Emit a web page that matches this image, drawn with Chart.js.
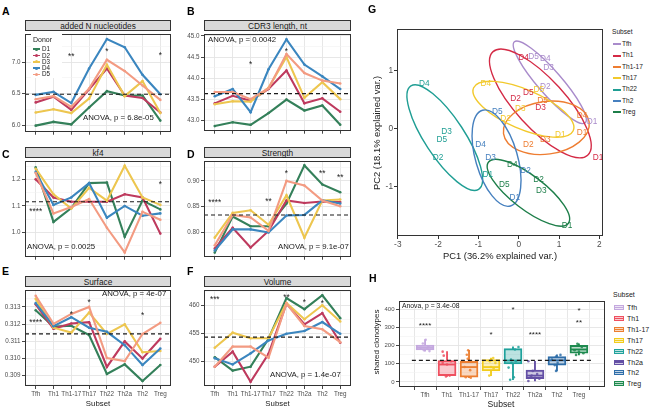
<!DOCTYPE html>
<html><head><meta charset="utf-8">
<script src="https://cdn.jsdelivr.net/npm/chart.js@4.4.1/dist/chart.umd.min.js"></script>
<style>
html,body{margin:0;padding:0;background:#fff}
body{width:650px;height:409px;position:relative;overflow:hidden;font-family:"Liberation Sans",Arial,Helvetica,sans-serif;color:#1a1a1a}
canvas{position:absolute}
.t{position:absolute;white-space:nowrap}
.strip{position:absolute;background:#D9D9D9;border:1px solid #333;box-sizing:border-box;font-size:8.3px;color:#1a1a1a;display:flex;align-items:center;justify-content:center;white-space:nowrap}
.box{position:absolute}
</style></head><body>
<script>
// ---------------- DATA ----------------
const subsets = ['Tfh','Th1','Th1-17','Th17','Th22','Th2a','Th2','Treg'];
const donors = ['D1','D2','D3','D4','D5'];

// A: added N nucleotides (rows D1..D5)
const addedNucleotides = [
 [5.99,6.05,6.01,6.28,6.54,6.47,6.47,6.07],
 [6.36,6.45,6.24,6.57,6.90,6.47,6.43,6.20],
 [6.20,6.25,6.19,6.42,6.96,6.46,6.70,6.19],
 [6.48,6.53,6.35,6.90,7.37,7.24,6.80,6.49],
 [6.41,6.46,6.29,6.58,7.04,6.86,6.63,6.40]];
const addedNucleotidesRef = 6.49;
const addedNucleotidesTicks = [6.0,6.5,7.0];
const addedNucleotidesStars = [[2,'**',7.13],[4,'*',7.21],[7,'*',7.15]];

// B: CDR3 length, nt
const cdr3Length = [
 [42.86,42.95,42.89,43.17,43.49,43.23,43.35,42.89],
 [43.40,43.58,43.46,43.74,44.18,43.40,43.52,43.20],
 [43.38,43.45,43.44,43.77,44.50,43.53,43.90,43.50],
 [43.57,43.74,43.19,44.21,44.92,44.32,44.04,43.74],
 [43.67,43.67,43.50,43.76,44.57,44.12,43.94,43.87]];
const cdr3LengthRef = 43.63;
const cdr3LengthTicks = [43.0,43.5,44.0,44.5,45.0];
const cdr3LengthStars = [[2,'*',44.37],[4,'*',44.68]];

// C: kf4
const kf4 = [
 [1.245,1.040,1.092,1.186,1.188,0.984,1.120,1.087],
 [1.200,1.132,1.116,1.116,1.116,1.144,1.132,0.996],
 [1.240,1.144,1.090,1.168,1.120,1.251,1.132,1.104],
 [1.228,1.104,1.132,1.186,1.056,1.100,1.063,1.072],
 [1.224,1.072,1.096,1.126,1.018,0.925,1.078,1.048]];
const kf4Ref = 1.116;
const kf4Ticks = [1.0,1.1,1.2];
const kf4Stars = [[0,'****',1.087],[7,'*',1.188]];

// D: Strength
const strength = [
 [0.761,0.831,0.812,0.812,0.856,0.930,0.893,0.878],
 [0.769,0.809,0.771,0.803,0.862,0.857,0.860,0.859],
 [0.790,0.838,0.843,0.815,0.872,0.790,0.862,0.864],
 [0.765,0.806,0.806,0.800,0.833,0.834,0.862,0.856],
 [0.775,0.834,0.829,0.803,0.900,0.891,0.862,0.851]];
const strengthRef = 0.834;
const strengthTicks = [0.80,0.85,0.90];
const strengthStars = [[0,'****',0.862],[3,'**',0.865],[4,'*',0.918],[6,'**',0.918],[7,'**',0.912]];

// E: Surface
const surface = [
 [0.31281,0.31185,0.31190,0.31136,0.30909,0.30965,0.30868,0.30961],
 [0.31315,0.31173,0.31203,0.31211,0.30950,0.31099,0.30999,0.31114],
 [0.31347,0.31179,0.31151,0.31267,0.31142,0.31198,0.31036,0.31043],
 [0.31322,0.31188,0.31240,0.31179,0.31155,0.31077,0.30961,0.31058],
 [0.31365,0.31201,0.31259,0.31300,0.31002,0.30984,0.31142,0.31207]];
const surfaceRef = 0.31143;
const surfaceTicks = [0.309,0.310,0.311,0.312,0.313];
const surfaceStars = [[0,'****',0.31222],[2,'*',0.31272],[3,'*',0.31337],[6,'*',0.31266]];

// F: Volume
const volume = [
 [450.7,448.3,449.0,454.0,461.3,459.3,461.8,457.7],
 [449.0,451.7,446.3,451.3,460.3,456.6,458.6,453.3],
 [452.4,455.1,454.1,454.1,460.4,457.5,460.0,457.1],
 [450.5,449.4,451.4,453.7,454.9,455.4,457.0,454.9],
 [449.0,452.6,452.6,450.6,460.3,456.3,455.7,453.4]];
const volumeRef = 454.3;
const volumeTicks = [450,455,460];
const volumeStars = [[0,'***',461.5],[4,'**',461.9],[5,'*',460.9],[6,'*',460.7]];

// G: PCA (points per subset, donors D1..D5)
const pcaSubsets = ['Tfh','Th1','Th1-17','Th17','Th22','Th2','Treg'];
const pcaTfh   = [[1.82,0.12],[0.66,0.72],[0.74,1.06],[0.66,1.21],[0.37,1.24]];
const pcaTh1   = [[1.97,-0.49],[-0.08,0.52],[0.54,0.37],[0.12,1.23],[0.24,0.62]];
const pcaTh117 = [[1.57,-0.07],[0.24,-0.27],[0.66,-0.19],[1.57,0.22],[0.59,0.49]];
const pcaTh17  = [[1.03,-0.10],[-0.33,0.18],[0.04,0.35],[-0.82,0.77],[0.50,0.68]];
const pcaTh22  = [[-0.77,-0.79],[-2.00,-0.50],[-1.79,-0.05],[-2.34,0.77],[-1.91,-0.18]];
const pcaTh2   = [[-0.10,-1.19],[0.17,-0.72],[-0.70,-0.49],[-0.95,-0.27],[-0.53,0.29]];
const pcaTreg  = [[1.20,-1.66],[0.49,-0.87],[0.56,-1.06],[-0.16,-0.62],[-0.36,-0.97]];
const pcaPoints = [pcaTfh,pcaTh1,pcaTh117,pcaTh17,pcaTh22,pcaTh2,pcaTreg];
// ellipses: centre x, centre y, semi-axis vector a (x,y), semi-axis vector b (x,y), in PC units
const pcaEllipses = [
 [0.77,0.80, 0.877,-0.697, 0.225,0.131],
 [0.536,0.437, 1.173,-0.891, 0.459,0.281],
 [0.684,0.017, 1.062,0.101, 0.091,-0.449],
 [0.116,0.336, 1.235,-0.370, 0.200,0.308],
 [-1.835,-0.151, 0.84,-0.89, 0.415,0.182],
 [-0.551,-0.504, 0.346,-0.824, 0.499,0.097],
 [0.24,-1.10, 0.988,-0.529, 0.26,0.225]];

// H: shared clonotypes boxplots
const hQ1  = [176,35,26,61,100,18,93,158];
const hMed = [188,96,82,82,118,35,119,179];
const hQ3  = [203,118,114,123,184,65,140,202];
const hLo  = [170,30,23,35,12,5,61,149];
const hHi  = [233,167,175,132,193,114,149,210];
const hPoints = [
 [233,212,196,188,182,175,170],
 [167,145,114,105,96,35,30],
 [175,150,128,114,82,65,26,23],
 [132,114,105,82,75,35],
 [193,179,123,114,105,79,26,12],
 [114,61,44,35,26,23,5,18],
 [149,140,123,105,93,61],
 [210,193,175,167,149,158]];
const hJitter = [
 [0.03,-0.10,0.15,-0.20,0.10,-0.05,0.20],
 [-0.20,-0.15,0.18,-0.20,0.00,0.12,-0.05],
 [-0.04,-0.10,-0.06,0.10,-0.20,0.05,-0.15,0.08],
 [0.10,-0.05,0.20,0.00,0.12,-0.08],
 [0.25,0.09,-0.09,0.13,-0.07,-0.20,0.04,-0.13],
 [-0.30,-0.10,0.10,-0.15,-0.20,0.00,-0.30,0.20],
 [0.16,-0.04,-0.23,0.03,-0.10,-0.04],
 [-0.07,0.13,-0.20,0.00,-0.13,0.20]];
const hRef = 119;
const hTicks = [0,100,200,300,400];
const hStars = [[0,'****',325],[3,'*',275],[4,'*',412],[5,'****',275],[7,'*',405],[7,'**',339]];

// ---------------- STYLE ----------------
const FONT = '"Liberation Sans", Arial, Helvetica, sans-serif';
const donorColors = ['#34805A','#BE3A5E','#EDC64F','#3B86BF','#F39B82'];
const pcaColors = ['#A98BCB','#D42A45','#EE7D31','#F2C92C','#1F9E94','#4680BF','#1D7E49'];
const hColors = ['#C4A8DF','#EF5060','#EC7E30','#F2CC1C','#20A29C','#6450A5','#2F6EA9','#1E8A4F'];
const X_MIN = -0.6, X_MAX = 7.6;
Chart.defaults.font.family = FONT;

function hexA(h,a){const n=parseInt(h.slice(1),16);return `rgba(${n>>16&255},${n>>8&255},${n&255},${a})`;}
function addCanvas(x,y,w,h){const c=document.createElement('canvas');c.width=w;c.height=h;c.style.left=x+'px';c.style.top=y+'px';c.style.width=w+'px';c.style.height=h+'px';document.body.appendChild(c);return c;}
function txt(s,x,y,size,o={}){const d=document.createElement('div');d.className='t';d.textContent=s;d.style.fontSize=size+'px';d.style.lineHeight=size+'px';
 let tf='';
 if(o.rot){d.style.left=x+'px';d.style.top=y+'px';tf='translate(-50%,-50%) rotate(-90deg)';}
 else{d.style.left=x+'px';d.style.top=(y-0.49*size)+'px';if(o.align==='center')tf='translateX(-50%)';else if(o.align==='right')tf='translateX(-100%)';}
 if(tf)d.style.transform=tf; if(o.color)d.style.color=o.color; if(o.bold)d.style.fontWeight='bold';
 document.body.appendChild(d);return d;}
function rectDiv(x,y,w,h,css){const d=document.createElement('div');d.className='box';d.style.left=x+'px';d.style.top=y+'px';d.style.width=w+'px';d.style.height=h+'px';Object.assign(d.style,css||{});document.body.appendChild(d);return d;}

const framePlugin={id:'frame',afterDraw(ch){const a=ch.chartArea,c=ch.ctx;c.save();c.strokeStyle='#333';c.lineWidth=1;
 const l=Math.round(a.left),t=Math.round(a.top),r=Math.round(a.right),b=Math.round(a.bottom);c.strokeRect(l+0.5,t+0.5,r-l-1,b-t-1);c.restore();}};
function starsPlugin(items,fs){return{id:'stars',afterDatasetsDraw(ch){const c=ch.ctx,xs=ch.scales.x,ys=ch.scales.y;c.save();c.fillStyle='#222';c.font=`${fs}px ${FONT}`;c.textAlign='center';c.textBaseline='alphabetic';
 for(const [i,t,v] of items)c.fillText(t,xs.getPixelForValue(i),ys.getPixelForValue(v)+0.58*fs);c.restore();}};}

function yScale(min,max,majors,dec,YW,fs){
 const step=majors[1]-majors[0];const all=majors.slice();
 for(let k=-1;k<majors.length;k++){const v=majors[0]+(k+0.5)*step;if(v>min&&v<max)all.push(v);}
 all.sort((a,b)=>a-b);
 const isMajor=v=>majors.some(m=>Math.abs(m-v)<step*1e-3);
 return{type:'linear',min,max,
  afterBuildTicks:s=>{s.ticks=all.map(v=>({value:v}));},
  afterFit:s=>{s.width=YW;},
  ticks:{callback:v=>isMajor(v)?v.toFixed(dec):'',font:{size:fs,family:FONT},color:'#4D4D4D',padding:1.5,autoSkip:false},
  grid:{color:c=>(c.tick&&isMajor(c.tick.value))?'#E4E4E4':'#F1F1F1',lineWidth:c=>(c.tick&&isMajor(c.tick.value))?0.9:0.6,
   tickColor:c=>(c.tick&&isMajor(c.tick.value))?'#333':'rgba(0,0,0,0)',tickLength:3,drawTicks:true},
  border:{display:false}};
}
function catScale(XH,show,fs){
 return{type:'linear',min:X_MIN,max:X_MAX,
  afterBuildTicks:s=>{s.ticks=subsets.map((_,i)=>({value:i}));},
  afterFit:s=>{s.height=XH;},
  ticks:{callback:v=>show?subsets[v]:'',font:{size:fs,family:FONT},color:'#4D4D4D',padding:1,autoSkip:false,maxRotation:0,minRotation:0},
  grid:{color:'#E4E4E4',lineWidth:0.9,tickColor:'#333',tickLength:3},
  border:{display:false}};
}
const baseOpts={responsive:false,animation:false,events:[],devicePixelRatio:1,plugins:{legend:{display:false},tooltip:{enabled:false}}};

function linePanel(rect,series,ref,ticks,dec,yMin,yMax,stars,showX){
 const YW=34,PT=1,PR=1,XH=showX?14:5;
 const W=rect.r-rect.l+YW+PR,H=rect.b-rect.t+PT+XH;
 const cv=addCanvas(rect.l-YW,rect.t-PT,W,H);
 const datasets=[{data:[{x:X_MIN,y:ref},{x:X_MAX,y:ref}],borderColor:'#1a1a1a',borderWidth:1.1,borderDash:[4,3],pointRadius:0}];
 for(let d=series.length-1;d>=0;d--)datasets.push({data:series[d].map((v,i)=>({x:i,y:v})),borderColor:donorColors[d],backgroundColor:donorColors[d],
  borderWidth:2.1,pointRadius:1.3,pointBorderWidth:0,tension:0});
 new Chart(cv,{type:'line',data:{datasets},options:Object.assign({},baseOpts,{
  layout:{padding:{left:0,right:PR,top:PT,bottom:0},autoPadding:false},
  scales:{x:catScale(XH,showX,6.3),y:yScale(yMin,yMax,ticks,dec,YW,6.3)}}),
  plugins:[framePlugin,starsPlugin(stars,8.3)]});
}

// ---------------- PANELS A-F ----------------
const RA={l:25,t:30,r:171,b:132}, RB={l:204,t:30,r:351,b:131};
const RC={l:25,t:157,r:171,b:257}, RD={l:204,t:157,r:351,b:257};
const RE={l:25,t:286,r:171,b:386}, RF={l:204,t:286,r:351,b:386};
linePanel(RA,addedNucleotides,addedNucleotidesRef,addedNucleotidesTicks,1,5.893,7.446,addedNucleotidesStars,false);
linePanel(RB,cdr3Length,cdr3LengthRef,cdr3LengthTicks,1,42.75,45.04,cdr3LengthStars,false);
linePanel(RC,kf4,kf4Ref,kf4Ticks,1,0.909,1.268,kf4Stars,false);
linePanel(RD,strength,strengthRef,strengthTicks,2,0.753,0.938,strengthStars,false);
linePanel(RE,surface,surfaceRef,surfaceTicks,3,0.30839,0.31397,surfaceStars,true);
linePanel(RF,volume,volumeRef,volumeTicks,0,445.54,462.69,volumeStars,true);

// ---------------- PANEL G ----------------
(function(){
 const R={l:397,t:24,r:603,b:236};const YW=22,PT=1,PR=1,XH=15;
 const cv=addCanvas(R.l-YW,R.t-PT,R.r-R.l+YW+PR,R.b-R.t+PT+XH);
 const ellPlugin={id:'ell',beforeDatasetsDraw(ch){const c=ch.ctx,xs=ch.scales.x,ys=ch.scales.y;
  pcaEllipses.forEach((e,k)=>{const [cx,cy,ax,ay,bx,by]=e;const px=xs.getPixelForValue(cx),py=ys.getPixelForValue(cy);
   const sx=xs.getPixelForValue(cx+1)-px,sy=ys.getPixelForValue(cy+1)-py;
   c.save();c.beginPath();c.transform(ax*sx,ay*sy,bx*sx,by*sy,px,py);c.arc(0,0,1,0,2*Math.PI);c.restore();
   c.save();c.strokeStyle=pcaColors[k];c.lineWidth=1.4;c.stroke();c.restore();});}};
 const labPlugin={id:'lab',afterDatasetsDraw(ch){const c=ch.ctx;c.save();c.font=`8.3px ${FONT}`;c.textAlign='center';c.textBaseline='middle';
  ch.data.datasets.forEach((ds,k)=>{const meta=ch.getDatasetMeta(k);c.fillStyle=pcaColors[k];
   meta.data.forEach((pt,i)=>{c.fillText(donors[i],pt.x,pt.y);});});c.restore();}};
 const datasets=pcaPoints.map((pts,k)=>({data:pts.map(p=>({x:p[0],y:p[1]})),pointRadius:0}));
 const tk=(vals,fit,axis)=>({afterBuildTicks:s=>{s.ticks=vals.map(v=>({value:v}));},afterFit:fit,
  ticks:{font:{size:8.3,family:FONT},color:'#4D4D4D',padding:1,autoSkip:false,maxRotation:0},
  grid:{drawOnChartArea:false,tickLength:3,tickColor:'#333'},border:{display:false}});
 new Chart(cv,{type:'scatter',data:{datasets},options:Object.assign({},baseOpts,{
  layout:{padding:{left:0,right:PR,top:PT,bottom:0},autoPadding:false},
  scales:{x:Object.assign({type:'linear',min:-3.02,max:2.09},tk([-3,-2,-1,0,1,2],s=>{s.height=XH;})),
          y:Object.assign({type:'linear',min:-1.845,max:1.718},tk([-1,0,1],s=>{s.width=YW;}))}}),
  plugins:[ellPlugin,labPlugin,framePlugin]});
})();

// ---------------- PANEL H ----------------
(function(){
 const R={l:399,t:297,r:605,b:387};const YW=24,PT=1,PR=1,XH=13;
 const cv=addCanvas(R.l-YW,R.t-PT,R.r-R.l+YW+PR,R.b-R.t+PT+XH);
 const idx=subsets.map((_,i)=>i);
 const datasets=[
  {type:'line',data:[{x:X_MIN,y:hRef},{x:X_MAX,y:hRef}],borderColor:'#1a1a1a',borderWidth:1.1,borderDash:[4,3],pointRadius:0},
  {type:'scatter',data:hPoints.flatMap((arr,i)=>arr.map((v,j)=>({x:i+hJitter[i][j],y:v}))),
   pointRadius:1.3,pointBorderWidth:0,pointBackgroundColor:hPoints.flatMap((arr,i)=>arr.map(()=>hexA(hColors[i],0.85)))},
  {type:'scatter',data:idx.map(i=>({x:i,y:hMed[i]})),pointStyle:'line',pointRadius:8.5,pointBorderWidth:1.8,pointBorderColor:hColors,pointBackgroundColor:hColors},
  {type:'bar',data:idx.map(i=>({x:i,y:[hQ1[i],hQ3[i]]})),grouped:false,barThickness:18,borderSkipped:false,borderWidth:1.3,
   borderColor:hColors,backgroundColor:hColors.map(c=>hexA(c,0.3))},
  {type:'bar',data:idx.map(i=>({x:i,y:[hLo[i],hQ1[i]]})),grouped:false,barThickness:1.2,borderWidth:0,backgroundColor:hColors},
  {type:'bar',data:idx.map(i=>({x:i,y:[hQ3[i],hHi[i]]})),grouped:false,barThickness:1.2,borderWidth:0,backgroundColor:hColors}];
 new Chart(cv,{type:'bar',data:{datasets},options:Object.assign({},baseOpts,{
  layout:{padding:{left:0,right:PR,top:PT,bottom:0},autoPadding:false},
  scales:{x:catScale(XH,true,6.3),y:yScale(-27.9,445.8,hTicks,0,YW,6)}}),
  plugins:[framePlugin,starsPlugin(hStars,8)]});
})();

// ---------------- TEXT ----------------
// panel letters
[['A',2,11],['B',187,11],['C',2,154],['D',187,154],['E',2,271],['F',187,271],['G',368,9],['H',369,278]]
 .forEach(([s,x,y])=>txt(s,x,y,10.5,{bold:true,color:'#000'}));
// strips
[[RA,'added N nucleotides'],[RB,'CDR3 length, nt'],[RC,'kf4'],[RD,'Strength'],[RE,'Surface'],[RF,'Volume']]
 .forEach(([r,s])=>{const d=rectDiv(r.l,r.t-10,r.r-r.l,11);d.className='strip';d.textContent=s;});
// ANOVA labels
txt('ANOVA, p = 6.8e-05',83,118,7.8);
txt('ANOVA, p = 0.0042',208,40,7.8);
txt('ANOVA, p = 0.0025',27,247,7.8);
txt('ANOVA, p = 9.1e-07',278,247,7.8);
txt('ANOVA, p = 4e-07',102,294,7.8);
txt('ANOVA, p = 1.4e-07',270,375,7.8);
txt('Anova, p = 3.4e-08',402,306,6.8);
// axis titles
txt('Subset',98,404,7.8,{align:'center'});
txt('Subset',277.5,404,7.8,{align:'center'});
txt('PC1 (36.2% explained var.)',500,256,9.4,{align:'center'});
txt('PC2 (18.1% explained var.)',377,133,9.4,{rot:true});
txt('shared clonotypes',377,342,8,{rot:true});
txt('Subset',501,404,8.6,{align:'center'});
// legend A (Donor)
rectDiv(31,33,31,45,{background:'#fff'});
txt('Donor',33,39,7);
donors.forEach((d,i)=>{const y=49.3+i*6.3;
 rectDiv(33,y-0.9,7,1.8,{background:donorColors[i]});
 rectDiv(35,y-1.5,3,3,{background:donorColors[i],borderRadius:'50%'});
 txt(d,42,y,6.3);});
// legend G
txt('Subset',612,32,6.6);
pcaSubsets.forEach((s,i)=>{const y=44.3+i*11.33;rectDiv(613,y-1,8,2,{background:pcaColors[i]});txt(s,622,y,6.6);});
// legend H
txt('Subset',613,294,7);
subsets.forEach((s,i)=>{const y=307.5+i*10.9;
 rectDiv(614,y-2.5,10,5,{background:hexA(hColors[i],0.3),border:'1px solid '+hColors[i],boxSizing:'border-box'});
 rectDiv(614,y-0.6,10,1.2,{background:hColors[i]});
 txt(s,627,y,7);});
</script>
</body></html>
